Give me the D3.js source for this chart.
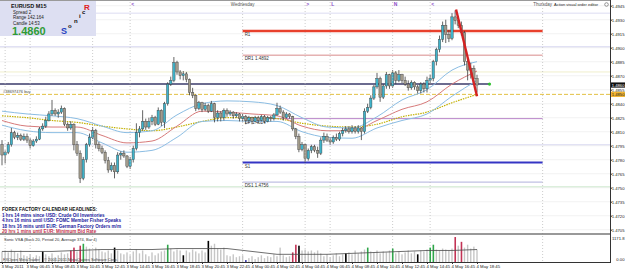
<!DOCTYPE html>
<html>
<head>
<meta charset="utf-8">
<script src="https://cdn.jsdelivr.net/npm/d3@7"></script>
<style>
  body { margin: 0; background: #fff; }
  svg { display: block; font-family: "Liberation Sans", Arial, sans-serif; }
</style>
</head>
<body>
<div id="chart-area"></div>
<script>
// EURUSD M15, 3 May 2011 04:45 -> 4 May 2011 18:45 (153 bars)
const firstOpen = 1.4796;
const closes = [
  1.4785,1.4788,1.4796,1.4809,1.4804,1.4806,1.4802,1.4805,1.4801,1.4795,
  1.4800,1.4802,1.4813,1.4816,1.4822,1.4829,1.4833,1.4829,1.4831,1.4835,
  1.4818,1.4814,1.4818,1.4796,1.4787,1.4760,1.4780,1.4796,1.4804,1.4811,
  1.4796,1.4792,1.4788,1.4779,1.4769,1.4774,1.4767,1.4785,1.4787,1.4784,
  1.4773,1.4780,1.4792,1.4809,1.4813,1.4821,1.4815,1.4821,1.4825,1.4818,
  1.4833,1.4820,1.4840,1.4861,1.4865,1.4884,1.4874,1.4870,1.4872,1.4866,
  1.4852,1.4849,1.4835,1.4841,1.4834,1.4838,1.4832,1.4840,1.4825,1.4830,
  1.4825,1.4833,1.4829,1.4831,1.4827,1.4829,1.4824,1.4826,1.4822,1.4825,
  1.4821,1.4825,1.4822,1.4826,1.4821,1.4825,1.4824,1.4828,1.4835,1.4831,
  1.4825,1.4829,1.4826,1.4813,1.4805,1.4791,1.4796,1.4781,1.4790,1.4794,
  1.4790,1.4787,1.4801,1.4805,1.4801,1.4799,1.4804,1.4802,1.4808,1.4811,
  1.4813,1.4810,1.4814,1.4810,1.4814,1.4810,1.4832,1.4836,1.4846,1.4858,
  1.4867,1.4847,1.4859,1.4871,1.4859,1.4873,1.4865,1.4871,1.4865,1.4861,
  1.4857,1.4863,1.4858,1.4854,1.4861,1.4856,1.4865,1.4867,1.4885,1.4898,
  1.4909,1.4924,1.4914,1.4910,1.4933,1.4929,1.4924,1.4916,1.4885,1.4876,
  1.4878,1.4867,1.4860
];
const highs = [
  1.4801,1.4790,1.4799,1.4814,1.4811,1.4809,1.4808,1.4808,1.4808,1.4803,
  1.4802,1.4805,1.4815,1.4819,1.4826,1.4832,1.4844,1.4835,1.4834,1.4838,
  1.4836,1.4820,1.4821,1.4819,1.4800,1.4790,1.4783,1.4798,1.4808,1.4815,
  1.4813,1.4799,1.4795,1.4790,1.4783,1.4777,1.4777,1.4788,1.4789,1.4790,
  1.4785,1.4783,1.4795,1.4819,1.4816,1.4833,1.4824,1.4825,1.4828,1.4827,
  1.4836,1.4834,1.4842,1.4863,1.4869,1.4890,1.4886,1.4876,1.4875,1.4874,
  1.4867,1.4857,1.4850,1.4843,1.4842,1.4841,1.4840,1.4843,1.4841,1.4833,
  1.4832,1.4835,1.4835,1.4833,1.4832,1.4831,1.4830,1.4829,1.4828,1.4827,
  1.4826,1.4827,1.4827,1.4828,1.4828,1.4827,1.4827,1.4830,1.4841,1.4838,
  1.4833,1.4831,1.4830,1.4827,1.4814,1.4808,1.4799,1.4797,1.4792,1.4796,
  1.4796,1.4794,1.4804,1.4809,1.4808,1.4804,1.4806,1.4808,1.4810,1.4814,
  1.4816,1.4816,1.4817,1.4816,1.4817,1.4815,1.4835,1.4840,1.4849,1.4860,
  1.4873,1.4869,1.4861,1.4874,1.4872,1.4876,1.4875,1.4876,1.4872,1.4869,
  1.4865,1.4865,1.4864,1.4860,1.4863,1.4863,1.4869,1.4871,1.4887,1.4900,
  1.4913,1.4928,1.4930,1.4919,1.4937,1.4940,1.4934,1.4928,1.4918,1.4889,
  1.4884,1.4881,1.4871
];
const lows = [
  1.4774,1.4776,1.4786,1.4794,1.4802,1.4801,1.4800,1.4800,1.4798,1.4792,
  1.4794,1.4798,1.4801,1.4811,1.4814,1.4821,1.4827,1.4827,1.4825,1.4829,
  1.4816,1.4811,1.4812,1.4790,1.4784,1.4755,1.4758,1.4777,1.4794,1.4802,
  1.4792,1.4789,1.4786,1.4776,1.4766,1.4767,1.4760,1.4765,1.4780,1.4782,
  1.4771,1.4770,1.4777,1.4790,1.4804,1.4811,1.4812,1.4813,1.4817,1.4816,
  1.4817,1.4816,1.4814,1.4838,1.4859,1.4863,1.4871,1.4866,1.4865,1.4863,
  1.4849,1.4846,1.4832,1.4833,1.4831,1.4832,1.4830,1.4831,1.4820,1.4821,
  1.4821,1.4822,1.4826,1.4827,1.4824,1.4825,1.4821,1.4821,1.4818,1.4819,
  1.4818,1.4820,1.4819,1.4821,1.4819,1.4820,1.4821,1.4822,1.4827,1.4829,
  1.4822,1.4824,1.4824,1.4811,1.4802,1.4788,1.4789,1.4777,1.4779,1.4787,
  1.4788,1.4782,1.4785,1.4798,1.4799,1.4796,1.4797,1.4800,1.4800,1.4805,
  1.4809,1.4808,1.4808,1.4808,1.4808,1.4801,1.4808,1.4830,1.4834,1.4844,
  1.4856,1.4842,1.4845,1.4856,1.4856,1.4857,1.4861,1.4863,1.4862,1.4859,
  1.4854,1.4855,1.4855,1.4851,1.4851,1.4852,1.4852,1.4861,1.4864,1.4881,
  1.4895,1.4906,1.4905,1.4906,1.4908,1.4925,1.4921,1.4913,1.4881,1.4865,
  1.4867,1.4860,1.4852
];

// Sonic VSA volume sub-window
const volumes = [
  495,540,450,585,495,405,540,315,270,360,
  225,315,270,495,360,270,405,225,315,450,
  360,405,540,675,495,765,855,720,630,540,
  675,585,495,450,540,405,675,540,405,360,
  450,315,495,585,405,540,360,270,450,315,
  405,495,540,810,630,495,585,540,315,540,
  450,585,495,405,540,450,990,765,855,630,
  585,675,315,270,360,225,270,315,90,180,
  270,135,225,315,180,270,225,360,270,675,
  315,225,270,450,810,765,540,585,495,540,
  450,540,405,270,360,225,315,405,270,360,
  405,450,360,540,405,495,585,675,495,450,
  540,405,495,450,540,630,405,495,360,450,
  540,405,495,360,540,495,585,675,810,585,
  540,630,585,540,630,1170,765,945,675,810,
  630,720,585
];
const volMax = 1171.8;
const redBars = [22, 23, 25, 93, 94, 145, 147];
const greenBars = [26, 53, 117, 125, 137, 138];
const blackBars = [13, 36, 58, 66, 95, 110, 133];
const blueBars = [78];
// average line, read every 8 bars
const volAverage = [495,495,495,540,585,585,585,630,630,630,495,360,360,360,405,450,495,540,540,585];

// moving averages / envelope, read every 8 bars
const bandUpper  = [1.4832,1.4829,1.4827,1.4824,1.4816,1.4809,1.4811,1.4828,1.4840,1.4843,1.4842,1.4838,1.4825,1.4815,1.4814,1.4826,1.4844,1.4855,1.4876,1.4885];
const bandMiddle = [1.4822,1.4816,1.4815,1.4815,1.4806,1.4798,1.4800,1.4816,1.4832,1.4831,1.4829,1.4827,1.4816,1.4811,1.4811,1.4822,1.4834,1.4842,1.4861,1.4875];
const bandLower  = [1.4817,1.4811,1.4809,1.4809,1.4798,1.4788,1.4790,1.4804,1.4821,1.4822,1.4821,1.4821,1.4810,1.4804,1.4803,1.4814,1.4822,1.4829,1.4848,1.4865];
const slowMa     = [1.4827,1.4825,1.4822,1.4820,1.4816,1.4813,1.4811,1.4815,1.4821,1.4825,1.4825,1.4824,1.4819,1.4816,1.4815,1.4818,1.4826,1.4831,1.4841,1.4850];

const priceTicks = [1.4945,1.4930,1.4915,1.4900,1.4885,1.4870,1.4855,1.4840,1.4825,1.4810,1.4795,1.4780,1.4765,1.4750,1.4735,1.4720,1.4705];
const timeLabels = ['3 May 2011','3 May 06:45','3 May 08:45','3 May 10:45','3 May 12:45','3 May 14:45','3 May 16:45',
  '3 May 18:45','3 May 20:45','3 May 22:45','4 May 00:45','4 May 02:45','4 May 04:45','4 May 06:45','4 May 08:45',
  '4 May 10:45','4 May 12:45','4 May 14:45','4 May 16:45','4 May 18:45'];

// daily pivot levels for 4 May (bar 77 = 00:00 to bar 173 = 5 May 00:00)
const dayLevels = [1.4918, 1.4892, 1.4824, 1.4777, 1.4756];
const dayLevelNames = ['R1', 'DR1  1.4892', 'DP  1.4824', 'S1', 'DS1  1.4756'];
const fullLevels = [1.4937, 1.4901, 1.4874, 1.4796, 1.4751];

const sessionBars = [1, 9, 29, 41, 97, 105, 125, 137];
const sessionMarks = ['>', 'L', 'N', '<', '>', 'L', 'N', '<'];
const dayBars = [77, 173];
const dayNames = ['Wednesday', 'Thursday'];

const bidPrice = 1.4860;
const orderPrice = 1.4850;
const linePrice = 1.4861;
const trendFrom = [145.3, 1.4941];
const trendTo = [152, 1.4848];

const headlines = [
  'FOREX FACTORY CALENDAR HEADLINES:',
  '1 hrs 14 mins since USD: Crude Oil Inventories',
  '4 hrs 16 mins until USD: FOMC Member Fisher Speaks',
  '18 hrs 16 mins until EUR: German Factory Orders m/m',
  '20 hrs 1 mins until EUR: Minimum Bid Rate'
];

// ---------------------------------------------------------------
const width = 625;
const height = 270;
const plotRight = 610;
const mainBottom = 233;
const subTop = 235;
const subBottom = 262;
const panelRight = 96;

const svg = d3.select('#chart-area')
  .append('svg')
  .attr('width', width)
  .attr('height', height);

svg.append('rect').attr('width', width).attr('height', height).attr('fill', '#fff');

const defs = svg.append('defs');
defs.append('clipPath').attr('id', 'clip-main')
  .append('rect').attr('x', 0).attr('y', 0).attr('width', plotRight).attr('height', mainBottom);

const x = d3.scaleLinear().domain([0, 194]).range([2, 608.25]);
const y = d3.scaleLinear().domain([1.4705, 1.4945]).range([229.7, 5.7]);
const yVol = d3.scaleLinear().domain([0, volMax]).range([subBottom, subTop + 2]);

const main = svg.append('g').attr('clip-path', 'url(#clip-main)');

// grid
main.selectAll('.grid')
  .data(priceTicks)
  .enter()
  .append('line')
  .attr('x1', 0).attr('x2', plotRight)
  .attr('y1', (d) => y(d)).attr('y2', (d) => y(d))
  .attr('stroke', '#ececec')
  .attr('stroke-width', 0.7);

const fullColors = ['#dcdcf2', '#d6d6f0', '#f0efcc', '#d8d8f0', '#cfe9cf'];
main.selectAll('.full-level')
  .data(fullLevels)
  .enter()
  .append('line')
  .attr('x1', 0).attr('x2', plotRight)
  .attr('y1', (d) => y(d)).attr('y2', (d) => y(d))
  .attr('stroke', (d, k) => fullColors[k])
  .attr('stroke-width', 1);

// session / day separators
svg.selectAll('.vsep')
  .data(sessionBars.concat(dayBars))
  .enter()
  .append('line')
  .attr('x1', (d) => x(d)).attr('x2', (d) => x(d))
  .attr('y1', 2).attr('y2', subBottom)
  .attr('stroke', '#b4b4b4')
  .attr('stroke-width', 0.7)
  .attr('stroke-dasharray', '1,2');

// daily pivot lines
const levelColors = ['#e8402c', '#d88a8a', '#b884c8', '#3434c4', '#b0b0dc'];
const levelWidths = [2.5, 1, 1, 2, 1];
main.selectAll('.day-level')
  .data(dayLevels)
  .enter()
  .append('line')
  .attr('x1', x(dayBars[0])).attr('x2', x(dayBars[1]))
  .attr('y1', (d) => y(d)).attr('y2', (d) => y(d))
  .attr('stroke', (d, k) => levelColors[k])
  .attr('stroke-width', (d, k) => levelWidths[k]);

main.selectAll('.day-label')
  .data(dayLevels)
  .enter()
  .append('text')
  .attr('x', x(dayBars[0]) + 2)
  .attr('y', (d) => y(d) + 5)
  .attr('font-size', '4.5px')
  .attr('fill', '#333')
  .text((d, k) => dayLevelNames[k]);

// order line + horizontal line
main.append('line')
  .attr('x1', 0).attr('x2', plotRight)
  .attr('y1', y(orderPrice)).attr('y2', y(orderPrice))
  .attr('stroke', '#e2c043').attr('stroke-width', 1)
  .attr('stroke-dasharray', '4,2');
main.append('text')
  .attr('x', 3).attr('y', y(orderPrice) - 1)
  .attr('font-size', '4px').attr('fill', '#444')
  .text('#38697476 buy');

main.append('line')
  .attr('x1', 0).attr('x2', x(156))
  .attr('y1', y(linePrice)).attr('y2', y(linePrice))
  .attr('stroke', '#3a3a6a').attr('stroke-width', 1.5);
main.append('circle')
  .attr('cx', x(156)).attr('cy', y(linePrice)).attr('r', 1.6)
  .attr('fill', '#2fc02f');

// moving averages
const maBars = d3.range(0, closes.length, 8);
const maLine = (values) => d3.line()
  .x((d, k) => x(maBars[k]))
  .y((d) => y(d))
  .curve(d3.curveMonotoneX)(values);

main.append('path').attr('d', maLine(slowMa))
  .attr('fill', 'none').attr('stroke', '#c2b000').attr('stroke-width', 1.2)
  .attr('stroke-dasharray', '1.5,1');
main.append('path').attr('d', maLine(bandUpper))
  .attr('fill', 'none').attr('stroke', '#8bbde3').attr('stroke-width', 1);
main.append('path').attr('d', maLine(bandLower))
  .attr('fill', 'none').attr('stroke', '#8bbde3').attr('stroke-width', 1);
main.append('path').attr('d', maLine(bandMiddle))
  .attr('fill', 'none').attr('stroke', '#d77a7a').attr('stroke-width', 1);

// candles
const candles = closes.map((c, i) => ({
  i: i,
  open: i === 0 ? firstOpen : closes[i - 1],
  close: c,
  high: highs[i],
  low: lows[i]
}));

main.selectAll('.wick')
  .data(candles)
  .enter()
  .append('line')
  .attr('x1', (d) => x(d.i)).attr('x2', (d) => x(d.i))
  .attr('y1', (d) => y(Math.max(d.high, d.open, d.close)))
  .attr('y2', (d) => y(Math.min(d.low, d.open, d.close)))
  .attr('stroke', '#3c3c3c')
  .attr('stroke-width', 0.8);

main.selectAll('.body')
  .data(candles)
  .enter()
  .append('rect')
  .attr('x', (d) => x(d.i) - 1.2)
  .attr('width', 2.4)
  .attr('y', (d) => y(Math.max(d.open, d.close)))
  .attr('height', (d) => Math.max(0.7, Math.abs(y(d.open) - y(d.close))))
  .attr('fill', (d) => d.close >= d.open ? '#3fb2c9' : '#a29b8b')
  .attr('stroke', '#3c3c3c')
  .attr('stroke-width', 0.4);

// red trend line
main.append('line')
  .attr('x1', x(trendFrom[0])).attr('y1', y(trendFrom[1]))
  .attr('x2', x(trendTo[0])).attr('y2', y(trendTo[1]))
  .attr('stroke', '#d42222').attr('stroke-width', 2.4);

// headlines
const headColors = ['#111', '#1c1ca0', '#1c1ca0', '#1c1ca0', '#c2304c'];
svg.selectAll('.headline')
  .data(headlines)
  .enter()
  .append('text')
  .attr('x', 2)
  .attr('y', (d, k) => 211 + k * 5.5)
  .attr('font-size', '4.6px')
  .attr('font-weight', 'bold')
  .attr('fill', (d, k) => headColors[k])
  .text((d) => d);

// top labels (marks under the info panel are hidden, so skip them)
const visibleSessions = sessionBars.filter((d) => x(d) > panelRight);
svg.selectAll('.session-mark')
  .data(visibleSessions)
  .enter()
  .append('text')
  .attr('x', (d) => x(d) + 1)
  .attr('y', 6)
  .attr('font-size', '5px')
  .attr('font-weight', 'bold')
  .attr('fill', '#8a4cc8')
  .text((d) => sessionMarks[sessionBars.indexOf(d)]);

svg.selectAll('.day-name')
  .data(dayBars)
  .enter()
  .append('text')
  .attr('x', (d) => x(d))
  .attr('y', 6)
  .attr('font-size', '4.5px')
  .attr('text-anchor', 'middle')
  .attr('fill', '#555')
  .text((d, k) => dayNames[k]);

svg.append('text')
  .attr('x', 554).attr('y', 6)
  .attr('font-size', '4px').attr('fill', '#222')
  .text('Action visual order editor');
svg.append('circle')
  .attr('cx', 606.5).attr('cy', 4.5).attr('r', 1.8)
  .attr('fill', 'none').attr('stroke', '#555').attr('stroke-width', 0.6);

svg.append('line')
  .attr('x1', 0).attr('x2', plotRight).attr('y1', 0.5).attr('y2', 0.5)
  .attr('stroke', '#9a9a9a').attr('stroke-width', 1);

// info panel
const panel = svg.append('g');
panel.append('rect')
  .attr('x', 0).attr('y', 1).attr('width', panelRight).attr('height', 35)
  .attr('fill', '#dddff2');
panel.append('text').attr('x', 11).attr('y', 8).attr('font-size', '5.5px')
  .attr('font-weight', 'bold').attr('fill', '#111').text('EURUSD  M15');
panel.append('text').attr('x', 13).attr('y', 13.5).attr('font-size', '4.5px')
  .attr('fill', '#222').text('Spread  2');
panel.append('text').attr('x', 13).attr('y', 19).attr('font-size', '4.5px')
  .attr('fill', '#222').text('Range  142.164');
panel.append('text').attr('x', 13).attr('y', 24.5).attr('font-size', '4.5px')
  .attr('fill', '#222').text('Candle  14:53');
panel.append('text').attr('x', 12).attr('y', 35).attr('font-size', '11px')
  .attr('font-weight', 'bold').attr('fill', '#2f9b35').text(d3.format('.4f')(bidPrice));
const sonic = [['S', 61, 34, '9px', '#1f3fc0'], ['o', 68, 27.5, '6px', '#111'], ['n', 74, 22.5, '6px', '#111'],
  ['i', 79, 17.5, '6px', '#111'], ['c', 82, 13.5, '6px', '#111'], ['R', 84, 9.5, '8px', '#e02020']];
panel.selectAll('.sonic')
  .data(sonic)
  .enter()
  .append('text')
  .attr('x', (d) => d[1]).attr('y', (d) => d[2])
  .attr('font-size', (d) => d[3])
  .attr('font-weight', 'bold')
  .attr('fill', (d) => d[4])
  .text((d) => d[0]);

// right price axis
const axisTextRight = 624.5;
const yAxisCall = d3.axisRight(y)
  .tickValues(priceTicks)
  .tickFormat(d3.format('.4f'))
  .tickSize(2);

const yAxis = svg.append('g')
  .attr('transform', 'translate(' + plotRight + ', 0)')
  .call(yAxisCall);
yAxis.select('.domain').remove();
yAxis.selectAll('text')
  .attr('font-size', '4.2px')
  .attr('x', axisTextRight - plotRight)
  .attr('text-anchor', 'end')
  .attr('fill', '#222');
yAxis.selectAll('line').attr('stroke', '#333');

svg.append('rect').attr('x', plotRight + 1).attr('y', y(bidPrice) - 2.6)
  .attr('width', 14).attr('height', 5.2).attr('fill', '#111');
svg.append('text').attr('x', axisTextRight).attr('y', y(bidPrice) + 1.5)
  .attr('text-anchor', 'end')
  .attr('font-size', '4.2px').attr('fill', '#fff').text(d3.format('.4f')(bidPrice));
svg.append('rect').attr('x', plotRight + 1).attr('y', y(orderPrice) - 2.6)
  .attr('width', 14).attr('height', 5.2).attr('fill', '#f2b532');
svg.append('text').attr('x', axisTextRight).attr('y', y(orderPrice) + 1.5)
  .attr('text-anchor', 'end')
  .attr('font-size', '4.2px').attr('fill', '#222').text(d3.format('.4f')(orderPrice));

svg.append('line')
  .attr('x1', plotRight + 0.5).attr('x2', plotRight + 0.5)
  .attr('y1', 0).attr('y2', subBottom)
  .attr('stroke', '#333').attr('stroke-width', 1);

// separator between windows
svg.append('line')
  .attr('x1', 0).attr('x2', plotRight)
  .attr('y1', 234).attr('y2', 234)
  .attr('stroke', '#777').attr('stroke-width', 1.6);

// volume sub-window
const volColor = (i) => {
  if (redBars.includes(i)) return '#c23355';
  if (greenBars.includes(i)) return '#2fa64a';
  if (blackBars.includes(i)) return '#000';
  if (blueBars.includes(i)) return '#3a3aa8';
  return '#c6c6c6';
};

svg.selectAll('.vol')
  .data(volumes)
  .enter()
  .append('rect')
  .attr('x', (d, i) => x(i) - 0.7)
  .attr('width', (d, i) => volColor(i) === '#c6c6c6' ? 1.4 : 1.6)
  .attr('y', (d) => yVol(d))
  .attr('height', (d) => subBottom - yVol(d))
  .attr('fill', (d, i) => volColor(i));

svg.append('path')
  .attr('d', d3.line()
    .x((d, k) => x(maBars[k]))
    .y((d) => yVol(d))(volAverage))
  .attr('fill', 'none')
  .attr('stroke', '#4a4a4a')
  .attr('stroke-width', 0.8);

svg.append('text').attr('x', 4).attr('y', 240.5)
  .attr('font-size', '4px').attr('fill', '#333')
  .text('Sonic VSA (Back 20, Period 20, Average 374, Bar 4)');
svg.append('text').attr('x', 3).attr('y', 260.5)
  .attr('font-size', '4px').attr('fill', '#444').text('FXOpen MetaTrader');
svg.append('text').attr('x', 44).attr('y', 260.5)
  .attr('font-size', '4px').attr('fill', '#444').text('\u00a9 2001-2011 MetaQuotes Software Corp.');

svg.append('text').attr('x', axisTextRight).attr('y', 239.5)
  .attr('text-anchor', 'end')
  .attr('font-size', '4.2px').attr('fill', '#222').text(d3.format('.1f')(volMax));
svg.append('text').attr('x', axisTextRight).attr('y', 261)
  .attr('text-anchor', 'end')
  .attr('font-size', '4.2px').attr('fill', '#222').text('0.00');

// bottom time axis
svg.append('line')
  .attr('x1', 0).attr('x2', plotRight + 1)
  .attr('y1', subBottom + 0.5).attr('y2', subBottom + 0.5)
  .attr('stroke', '#333').attr('stroke-width', 1);

const xAxisCall = d3.axisBottom(x)
  .tickValues(maBars)
  .tickFormat((d, k) => timeLabels[k])
  .tickSize(2);

const xAxis = svg.append('g')
  .attr('transform', 'translate(0, ' + subBottom + ')')
  .call(xAxisCall);
xAxis.select('.domain').remove();
xAxis.selectAll('line').attr('stroke', '#333');
xAxis.selectAll('text')
  .attr('font-size', '4.3px')
  .attr('text-anchor', 'start')
  .attr('dx', '-1px')
  .attr('y', 3)
  .attr('fill', '#222');
</script>
</body>
</html>
